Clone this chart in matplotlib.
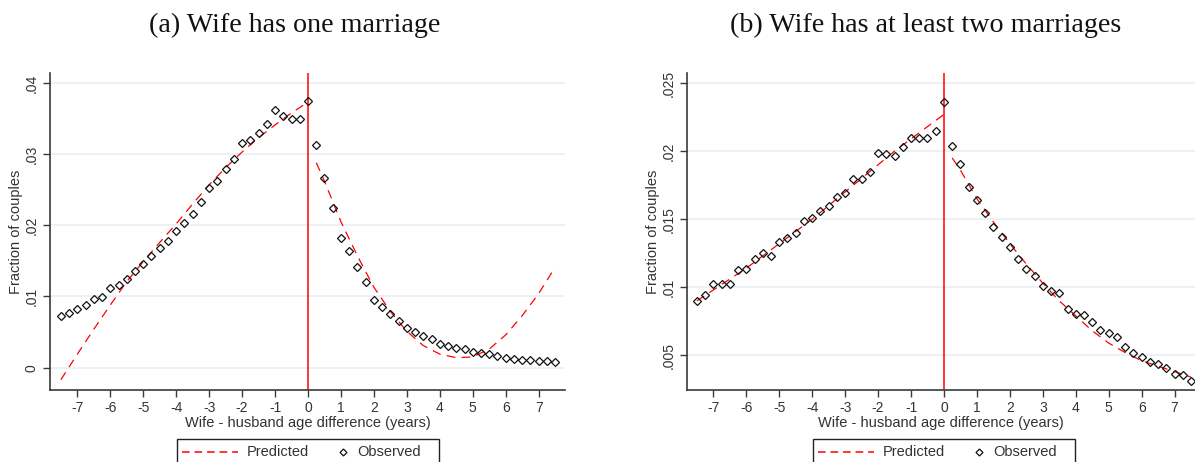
import numpy as np
import matplotlib
matplotlib.use("Agg")
import matplotlib.pyplot as plt
from matplotlib.lines import Line2D
from matplotlib.patches import Rectangle

# ---------------- data ----------------
obs_x = [-7.5 + 0.25 * i for i in range(61)]

obs_a = [0.00727, 0.00774, 0.00830, 0.00886, 0.00961, 0.00999, 0.01116, 0.01158,
         0.01247, 0.01351, 0.01463, 0.01562, 0.01679, 0.01782, 0.01913, 0.02026,
         0.02157, 0.02331, 0.02518, 0.02621, 0.02795, 0.02926, 0.03156, 0.03203,
         0.03301, 0.03419, 0.03620, 0.03531, 0.03489, 0.03489, 0.03751,
         0.03128, 0.02668, 0.02242, 0.01824, 0.01637, 0.01421, 0.01205, 0.00957,
         0.00858, 0.00755, 0.00657, 0.00553, 0.00506, 0.00450, 0.00399, 0.00338,
         0.00305, 0.00277, 0.00267, 0.00220, 0.00206, 0.00192, 0.00164, 0.00136,
         0.00122, 0.00108, 0.00103, 0.00089, 0.00094, 0.00075]

obs_b = [0.00902, 0.00946, 0.01025, 0.01025, 0.01025, 0.01123, 0.01137, 0.01206,
         0.01252, 0.01233, 0.01333, 0.01363, 0.01402, 0.01485, 0.01510, 0.01561,
         0.01600, 0.01662, 0.01691, 0.01797, 0.01797, 0.01848, 0.01985, 0.01978,
         0.01961, 0.02029, 0.02098, 0.02098, 0.02098, 0.02150, 0.02363,
         0.02037, 0.01907, 0.01740, 0.01642, 0.01544, 0.01439, 0.01370, 0.01297,
         0.01206, 0.01137, 0.01083, 0.01007, 0.00971, 0.00956, 0.00843, 0.00804,
         0.00797, 0.00743, 0.00684, 0.00662, 0.00632, 0.00559, 0.00520, 0.00490,
         0.00449, 0.00434, 0.00404, 0.00365, 0.00353, 0.00314]

pred_xl = [-7.5, -7.0, -6.5, -6.0, -5.5, -5.0, -4.5, -4.0, -3.5, -3.0, -2.5, -2.0,
           -1.5, -1.0, -0.5, 0.0]
pred_xr = [0.25, 0.5, 1.0, 1.5, 2.0, 2.5, 3.0, 3.5, 4.0, 4.5, 5.0, 5.5, 6.0, 6.5,
           7.0, 7.5]

pred_a_left = [-0.0017, 0.0019, 0.0054, 0.0088, 0.0121, 0.0149, 0.0176, 0.0202,
               0.0230, 0.0257, 0.0281, 0.0303, 0.0323, 0.0341, 0.0358, 0.0373]
pred_a_right = [0.0288, 0.0262, 0.0205, 0.0157, 0.0113, 0.0079, 0.0051, 0.0031,
                0.0019, 0.0014, 0.0015, 0.0026, 0.0046, 0.0073, 0.0104, 0.0141]

pred_b_left = [0.0090, 0.0098, 0.0106, 0.0114, 0.0123, 0.0132, 0.0141, 0.0150,
               0.0160, 0.0170, 0.0180, 0.0190, 0.0200, 0.0209, 0.0218, 0.0227]
pred_b_right = [0.0195, 0.0186, 0.0165, 0.0148, 0.0132, 0.0117, 0.0103, 0.0090,
                0.0079, 0.0068, 0.0059, 0.0052, 0.0046, 0.0042, 0.0038, 0.0034]

x_ticks = list(range(-7, 8))
yticks_a = [0.0, 0.01, 0.02, 0.03, 0.04]
ytick_labels_a = ["0", ".01", ".02", ".03", ".04"]
yticks_b = [0.005, 0.01, 0.015, 0.02, 0.025]
ytick_labels_b = [".005", ".01", ".015", ".02", ".025"]

titles = ["(a) Wife has one marriage", "(b) Wife has at least two marriages"]
xlabel = "Wife - husband age difference (years)"
ylabel = "Fraction of couples"
legend_labels = ["Predicted", "Observed"]

# ---------------- figure ----------------
W, H = 1195, 462
fig = plt.figure(figsize=(W / 100, H / 100), dpi=100)
fig.patch.set_facecolor("white")

axis_col = "#3a3a3a"
text_col = "#333333"
grid_col = "#e9f0f1"
sans = ["Liberation Sans", "DejaVu Sans"]
serif = ["Liberation Serif", "DejaVu Serif"]


def fx(px):
    return px / W


def fy(py):
    return 1 - py / H


def px_axes(x0, y0, x1, y1):
    return fig.add_axes([x0 / W, (H - y1) / H, (x1 - x0) / W, (y1 - y0) / H])


def style(ax, yt, ytl, xlim, ylim):
    ax.set_xlim(*xlim)
    ax.set_ylim(*ylim)
    ax.set_xticks(x_ticks)
    ax.set_xticklabels([str(t) for t in x_ticks], family=sans, fontsize=10,
                       color=text_col)
    ax.set_yticks(yt)
    ax.set_yticklabels(ytl, family=sans, fontsize=10, color=text_col,
                       rotation=90, va="center")
    for s in ["top", "right"]:
        ax.spines[s].set_visible(False)
    for s in ["left", "bottom"]:
        ax.spines[s].set_color(axis_col)
        ax.spines[s].set_linewidth(1.2)
    ax.tick_params(direction="out", length=5, width=1, color=axis_col, pad=3)
    ax.grid(axis="y", color=grid_col, linewidth=1.2)
    ax.set_axisbelow(True)
    ax.set_xlabel(xlabel, family=sans, fontsize=10.5, color=text_col, labelpad=1)
    ax.set_ylabel(ylabel, family=sans, fontsize=10.5, color=text_col, labelpad=1)


def draw(ax, obs, pl, pr):
    ax.axvline(0, color="#ff0000", linewidth=1.1, zorder=2)
    ax.plot(pred_xl, pl, color="#ff0000", linestyle=(0, (7, 5)), linewidth=0.9,
            zorder=3)
    ax.plot(pred_xr, pr, color="#ff0000", linestyle=(0, (7, 5)), linewidth=0.9,
            zorder=3)
    ax.plot(obs_x, obs, linestyle="none", marker="D", markersize=4.2,
            markerfacecolor="none", markeredgecolor="#111111",
            markeredgewidth=0.9, zorder=4)


ax1 = px_axes(50, 73, 565, 390)
style(ax1, yticks_a, ytick_labels_a, (-7.83, 7.8), (-0.00314, 0.0414))
draw(ax1, obs_a, pred_a_left, pred_a_right)

ax2 = px_axes(687, 73, 1195, 390)
style(ax2, yticks_b, ytick_labels_b, (-7.8, 7.62), (0.00245, 0.02574))
draw(ax2, obs_b, pred_b_left, pred_b_right)

fig.text(fx(295), fy(25), titles[0], family=serif, fontsize=20.2,
         ha="center", va="center", color="#111111")
fig.text(fx(926), fy(25), titles[1], family=serif, fontsize=20.2,
         ha="center", va="center", color="#111111")

# legends drawn in figure pixel coordinates
for x0, x1 in ((177, 439), (813, 1075)):
    fig.patches.append(Rectangle((fx(x0), fy(475)), fx(x1) - fx(x0),
                                 fy(439) - fy(475), transform=fig.transFigure,
                                 facecolor="white", edgecolor="#222222",
                                 linewidth=1.0))
    yc = fy(452)
    fig.lines.append(Line2D([fx(x0 + 5), fx(x0 + 61)], [yc, yc],
                            transform=fig.transFigure, color="#ff0000",
                            linestyle=(0, (5, 3.2)), linewidth=1.1))
    fig.text(fx(x0 + 70), yc, legend_labels[0], family=sans, fontsize=10.5,
             color=text_col, va="center", ha="left")
    fig.lines.append(Line2D([fx(x0 + 166)], [yc], transform=fig.transFigure,
                            linestyle="none", marker="D", markersize=3.5,
                            markerfacecolor="none", markeredgecolor="#111111",
                            markeredgewidth=0.9))
    fig.text(fx(x0 + 180), yc, legend_labels[1], family=sans, fontsize=10.5,
             color=text_col, va="center", ha="left")

fig.savefig("out.png", dpi=100, facecolor="white")
